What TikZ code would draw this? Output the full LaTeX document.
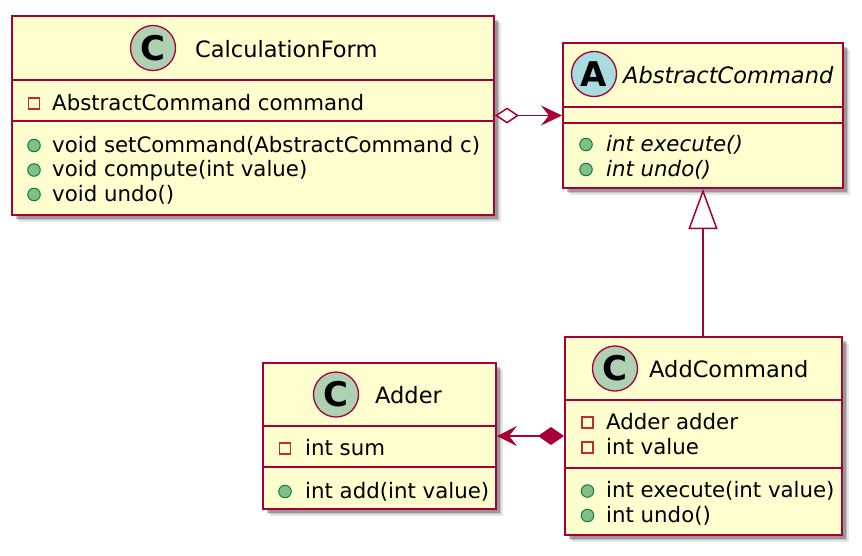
\documentclass[tikz,border=0pt]{standalone}
\usepackage{fontspec}
\setmainfont{DejaVu Sans}
\usetikzlibrary{arrows.meta,shadows}
\definecolor{umlred}{HTML}{A80036}
\definecolor{umlfill}{HTML}{FEFECE}
\definecolor{cgreen}{HTML}{ADD1B2}
\definecolor{acyan}{HTML}{A9DCDF}
\definecolor{privred}{HTML}{C82930}
\definecolor{pubfill}{HTML}{84BE84}
\definecolor{pubdraw}{HTML}{038048}
\tikzset{
  classbox/.style={draw=umlred, fill=umlfill, line width=2pt, inner sep=0pt,
    drop shadow={shadow xshift=6.5pt, shadow yshift=-6.5pt, opacity=.10, fill=black},
    drop shadow={shadow xshift=5pt, shadow yshift=-5pt, opacity=.15, fill=black},
    drop shadow={shadow xshift=3.5pt, shadow yshift=-3.5pt, opacity=.22, fill=black}},
  divider/.style={draw=umlred, line width=2pt},
  member/.style={anchor=base west, inner sep=0pt, font=\fontsize{21.3}{24}\selectfont},
  ctitle/.style={anchor=base west, inner sep=0pt, font=\fontsize{22.5}{26}\selectfont},
  stereo/.style={circle, draw=umlred, line width=1.3pt, minimum size=45pt, inner sep=0pt,
    font=\fontsize{34}{34}\selectfont\bfseries},
  privicon/.style={draw=privred, line width=1.4pt, minimum size=11pt, inner sep=0pt},
  pubicon/.style={circle, draw=pubdraw, fill=pubfill, line width=1pt, minimum size=12.5pt, inner sep=0pt},
  conn/.style={draw=umlred, line width=1.5pt},
}
\begin{document}
\begin{tikzpicture}[x=1pt,y=-1pt]
\useasboundingbox (0,0) rectangle (862,555);

% ---------- CalculationForm ----------
\node[classbox, minimum width=482pt, minimum height=199pt] (cf) at (253,115.5) {};
\draw[divider] (cf.west |- 0,80) -- (cf.east |- 0,80);
\draw[divider] (cf.west |- 0,121) -- (cf.east |- 0,121);
\node[stereo, fill=cgreen] (cfc) at (153,48) {C};
\node[ctitle] (cft) at (195,57) {CalculationForm};
\node[privicon] (cfp1) at (34,103.5) {};
\node[member] (cfa1) at (52,110) {AbstractCommand command};
\node[pubicon] (cfm1i) at (34,145.5) {};
\node[member] (cfm1) at (52,152) {void setCommand(AbstractCommand c)};
\node[pubicon] (cfm2i) at (34,170) {};
\node[member] (cfm2) at (52,176.5) {void compute(int value)};
\node[pubicon] (cfm3i) at (34,194.5) {};
\node[member] (cfm3) at (52,201) {void undo()};

% ---------- AbstractCommand ----------
\node[classbox, minimum width=280pt, minimum height=145pt] (ac) at (703,115.5) {};
\draw[divider] (ac.west |- 0,107) -- (ac.east |- 0,107);
\draw[divider] (ac.west |- 0,123) -- (ac.east |- 0,123);
\node[stereo, fill=acyan] (acc) at (594,74) {A};
\node[ctitle] (act) at (623,83) {\itshape AbstractCommand};
\node[pubicon] (acm1i) at (586,144.5) {};
\node[member] (acm1) at (606,151) {\itshape int execute()};
\node[pubicon] (acm2i) at (586,169.5) {};
\node[member] (acm2) at (606,176) {\itshape int undo()};

% ---------- Adder ----------
\node[classbox, minimum width=233pt, minimum height=146pt] (adder) at (379.5,436) {};
\draw[divider] (adder.west |- 0,426) -- (adder.east |- 0,426);
\draw[divider] (adder.west |- 0,467) -- (adder.east |- 0,467);
\node[stereo, fill=cgreen] (adc) at (336,394.5) {C};
\node[ctitle] (adt) at (375,403.5) {Adder};
\node[privicon] (adp1) at (285,448.5) {};
\node[member] (ada1) at (305,455) {int sum};
\node[pubicon] (adm1i) at (285,491.5) {};
\node[member] (adm1) at (305,498) {int add(int value)};

% ---------- AddCommand ----------
\node[classbox, minimum width=277pt, minimum height=198pt] (addc) at (703.5,436) {};
\draw[divider] (addc.west |- 0,400) -- (addc.east |- 0,400);
\draw[divider] (addc.west |- 0,468) -- (addc.east |- 0,468);
\node[stereo, fill=cgreen] (acmc) at (615,368.5) {C};
\node[ctitle] (acmt) at (649,377) {AddCommand};
\node[privicon] (acmp1) at (587.5,422.5) {};
\node[member] (acma1) at (606,429) {Adder adder};
\node[privicon] (acmp2) at (587.5,447.5) {};
\node[member] (acma2) at (606,454) {int value};
\node[pubicon] (acmm1i) at (587.5,491) {};
\node[member] (acmm1) at (606,497.5) {int execute(int value)};
\node[pubicon] (acmm2i) at (587.5,515.5) {};
\node[member] (acmm2) at (606,522) {int undo()};

% ---------- connectors ----------
\draw[conn, {Diamond[open, fill=white, length=24pt, width=16pt]}-{Stealth[length=21pt, width=20pt, inset=8pt]}]
  (cf.east) -- (ac.west);
\draw[conn, -{Triangle[open, fill=white, length=40pt, width=29pt]}]
  (ac.south |- addc.north) -- (ac.south);
\draw[conn, {Stealth[length=20pt, width=20pt, inset=8pt]}-{Diamond[length=26pt, width=18pt]}]
  (adder.east) -- (addc.west);
\end{tikzpicture}
\end{document}
